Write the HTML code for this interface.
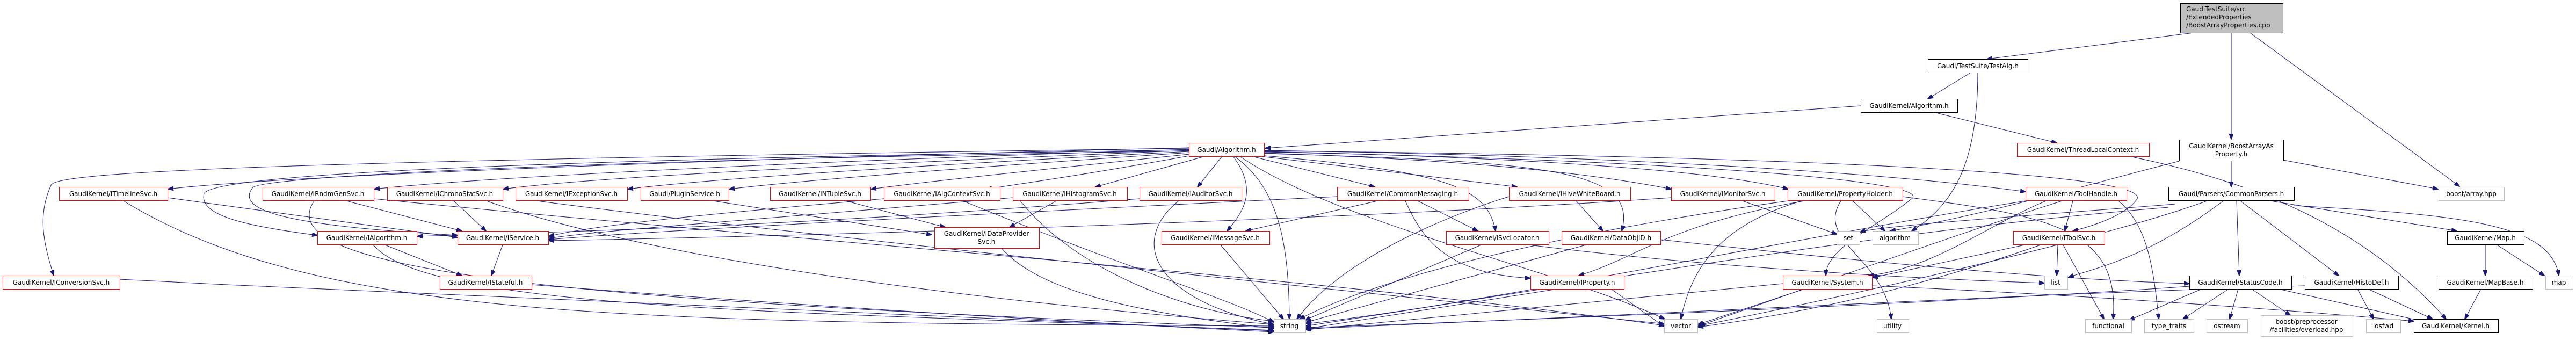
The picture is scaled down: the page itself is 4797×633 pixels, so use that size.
<!DOCTYPE html>
<html><head><meta charset="utf-8"><style>
html,body{margin:0;padding:0;background:#fff;}
svg{display:block}
text{font-family:"DejaVu Sans","Liberation Sans",sans-serif;font-size:12px;fill:#000}
.r{fill:#fff;stroke:#ff0000;stroke-width:1}
.b{fill:#fff;stroke:#000;stroke-width:1}
.g{fill:#fff;stroke:#bfbfbf;stroke-width:1}
.e path{fill:none;stroke:#191970;stroke-width:1}
</style></head><body>
<svg width="4797" height="633" viewBox="0 0 4797 633" xmlns="http://www.w3.org/2000/svg">
<defs><marker id="a" markerWidth="11" markerHeight="8" refX="10" refY="4" orient="auto" markerUnits="userSpaceOnUse"><path d="M0,0 L11,4 L0,8 z" fill="#191970" stroke="#191970"/></marker></defs>
<g class="e" marker-end="url(#a)">
<!-- top -->
<path d="M4085,61 L3700,110" marker-end="url(#a)"/>
<path d="M4155,61 L4155,259" marker-end="url(#a)"/>
<path d="M4190,61 L4580,347" marker-end="url(#a)"/>
<path d="M3670,135 L3590,184" marker-end="url(#a)"/>
<path d="M3683,135 C3683,300 3640,380 3560,430" marker-end="url(#a)"/>
<path d="M3465,197 L2356,276" marker-end="url(#a)"/>
<path d="M3605,210 L3830,266" marker-end="url(#a)"/>
<path d="M3970,292 C4200,340 4400,420 4555,594" marker-end="url(#a)"/>
<path d="M4155,300 L4155,348" marker-end="url(#a)"/>
<path d="M4252,298 L4540,352" marker-end="url(#a)"/>
<path d="M4058,300 C3900,340 3700,400 3520,430" marker-end="url(#a)"/>
<!-- CommonParsers -->
<path d="M4165,374 L4170,513" marker-end="url(#a)"/>
<path d="M4172,374 L4355,513" marker-end="url(#a)"/>
<path d="M4228,374 L4575,430" marker-end="url(#a)"/>
<path d="M4272,383 C4600,400 4750,420 4765,513" marker-end="url(#a)"/>
<path d="M4038,386 C3500,430 3000,520 2432,607" marker-end="url(#a)"/>
<path d="M4110,374 C3900,450 3400,560 3162,607" marker-end="url(#a)"/>
<path d="M4140,374 C4000,480 3900,500 3852,516" marker-end="url(#a)"/>
<path d="M4050,380 C3800,400 3500,420 3464,432" marker-end="url(#a)"/>
<!-- Map -->
<path d="M4628,456 L4628,513" marker-end="url(#a)"/>
<path d="M4650,456 L4738,513" marker-end="url(#a)"/>
<path d="M4620,538 L4590,594" marker-end="url(#a)"/>
<!-- StatusCode / HistoDef -->
<path d="M4100,538 L3965,596" marker-end="url(#a)"/>
<path d="M4150,538 L4065,594" marker-end="url(#a)"/>
<path d="M4168,538 L4152,594" marker-end="url(#a)"/>
<path d="M4193,538 L4265,587" marker-end="url(#a)"/>
<path d="M4243,538 L4520,600" marker-end="url(#a)"/>
<path d="M4077,533 C3700,560 3000,590 2432,610" marker-end="url(#a)"/>
<path d="M4390,538 L4420,594" marker-end="url(#a)"/>
<path d="M4410,538 L4530,594" marker-end="url(#a)"/>
<path d="M4292,532 C3700,550 3000,590 2432,612" marker-end="url(#a)"/>
<!-- Gaudi/Algorithm.h to row2 -->
<path d="M2215,275 C1200,300 500,330 313,352" marker-end="url(#a)"/>
<path d="M2215,278 C1500,300 900,330 697,352" marker-end="url(#a)"/>
<path d="M2215,280 C1600,305 1100,330 937,352" marker-end="url(#a)"/>
<path d="M2215,282 C1700,308 1300,335 1169,352" marker-end="url(#a)"/>
<path d="M2215,284 C1800,312 1500,335 1358,352" marker-end="url(#a)"/>
<path d="M2215,287 C1950,315 1750,335 1622,352" marker-end="url(#a)"/>
<path d="M2215,290 C2050,320 1950,335 1837,352" marker-end="url(#a)"/>
<path d="M2240,292 L2040,348" marker-end="url(#a)"/>
<path d="M2275,292 L2230,348" marker-end="url(#a)"/>
<path d="M2335,292 L2560,348" marker-end="url(#a)"/>
<path d="M2355,292 L2825,348" marker-end="url(#a)"/>
<path d="M2355,285 C2800,300 3000,330 3112,352" marker-end="url(#a)"/>
<path d="M2355,282 C2900,295 3200,320 3330,352" marker-end="url(#a)"/>
<path d="M2355,280 C3000,290 3500,320 3772,357" marker-end="url(#a)"/>
<path d="M2215,276 C500,300 100,320 95,345 C70,400 80,450 100,513" marker-end="url(#a)"/>
<path d="M2215,279 C800,300 400,330 380,360 C370,400 450,420 591,438" marker-end="url(#a)"/>
<path d="M2215,281 C1000,300 480,330 470,350 C440,390 520,420 852,438" marker-end="url(#a)"/>
<path d="M2297,292 C2340,350 2320,390 2285,430" marker-end="url(#a)"/>
<path d="M2355,290 C2700,320 2770,350 2785,430" marker-end="url(#a)"/>
<path d="M2355,286 C2900,300 3050,320 3020,430" marker-end="url(#a)"/>
<path d="M2300,292 C2380,350 2400,450 2401,594" marker-end="url(#a)"/>
<path d="M2310,292 C2500,420 2900,500 3100,594" marker-end="url(#a)"/>
<path d="M2355,283 C3200,300 3600,340 3560,370 C3500,420 3400,460 3400,513" marker-end="url(#a)"/>
<path d="M2355,281 C3300,290 4000,320 3980,370 C3960,400 3900,420 3860,430" marker-end="url(#a)"/>
<!-- row2 to below -->
<path d="M312,368 L852,442" marker-end="url(#a)"/>
<path d="M230,374 C600,600 1200,600 2372,607" marker-end="url(#a)"/>
<path d="M645,374 L860,430" marker-end="url(#a)"/>
<path d="M585,374 C500,500 1000,560 2372,610" marker-end="url(#a)"/>
<path d="M696,370 C1500,450 2500,520 3099,606" marker-end="url(#a)"/>
<path d="M845,374 L905,430" marker-end="url(#a)"/>
<path d="M906,374 C1200,480 1800,560 2372,604" marker-end="url(#a)"/>
<path d="M1000,374 C1500,440 2500,540 3099,603" marker-end="url(#a)"/>
<path d="M1328,374 L1735,437" marker-end="url(#a)"/>
<path d="M1575,374 L1760,423" marker-end="url(#a)"/>
<path d="M1646,370 C1300,400 1100,420 1022,440" marker-end="url(#a)"/>
<path d="M1793,374 C2100,500 2300,560 2372,600" marker-end="url(#a)"/>
<path d="M1967,374 L1880,423" marker-end="url(#a)"/>
<path d="M1886,368 C1400,410 1100,430 1022,444" marker-end="url(#a)"/>
<path d="M1900,374 C2000,500 2200,580 2372,598" marker-end="url(#a)"/>
<path d="M2195,374 C2100,450 2150,560 2372,604" marker-end="url(#a)"/>
<path d="M2122,370 C1500,420 1100,430 777,440" marker-end="url(#a)"/>
<path d="M2565,374 L2320,430" marker-end="url(#a)"/>
<path d="M2640,374 L2752,430" marker-end="url(#a)"/>
<path d="M2617,374 C2650,450 2700,510 2850,518" marker-end="url(#a)"/>
<path d="M2490,366 C1800,400 1200,430 1022,446" marker-end="url(#a)"/>
<path d="M2810,366 C2700,400 2500,480 2415,594" marker-end="url(#a)"/>
<path d="M2935,374 L2985,430" marker-end="url(#a)"/>
<path d="M3112,368 C2500,410 1500,440 1022,448" marker-end="url(#a)"/>
<path d="M3245,374 L3421,436" marker-end="url(#a)"/>
<path d="M3330,374 C3000,420 2600,500 2420,594" marker-end="url(#a)"/>
<path d="M3355,374 C3200,420 3150,500 3130,594" marker-end="url(#a)"/>
<path d="M3360,374 C3100,420 3050,480 2940,513" marker-end="url(#a)"/>
<path d="M3450,374 L3510,430" marker-end="url(#a)"/>
<path d="M3428,374 C3380,450 3510,480 3522,594" marker-end="url(#a)"/>
<path d="M3543,366 C3800,400 3950,420 3935,594" marker-end="url(#a)"/>
<path d="M3860,374 L3845,430" marker-end="url(#a)"/>
<path d="M3810,374 C3700,420 3600,500 3480,513" marker-end="url(#a)"/>
<path d="M3840,374 C3600,450 3300,560 3165,606" marker-end="url(#a)"/>
<path d="M3772,374 C3300,450 2800,560 2432,603" marker-end="url(#a)"/>
<path d="M3945,374 C4000,420 4010,500 4020,594" marker-end="url(#a)"/>
<!-- row3 -->
<path d="M717,456 L860,513" marker-end="url(#a)"/>
<path d="M695,456 C800,580 1500,580 2372,615" marker-end="url(#a)"/>
<path d="M936,456 L915,513" marker-end="url(#a)"/>
<path d="M1866,463 C1950,560 2200,590 2372,612" marker-end="url(#a)"/>
<path d="M2273,456 L2390,594" marker-end="url(#a)"/>
<path d="M2758,456 L2430,596" marker-end="url(#a)"/>
<path d="M2848,456 C3200,500 3600,520 3807,527" marker-end="url(#a)"/>
<path d="M2953,456 L2432,600" marker-end="url(#a)"/>
<path d="M3092,446 C3400,480 3800,520 4077,528" marker-end="url(#a)"/>
<path d="M3832,456 L3830,513" marker-end="url(#a)"/>
<path d="M3842,456 L3918,594" marker-end="url(#a)"/>
<path d="M3770,456 L3487,517" marker-end="url(#a)"/>
<path d="M3800,456 C3500,560 3300,590 3162,609" marker-end="url(#a)"/>
<!-- row4 -->
<path d="M223,520 C1000,560 1800,590 2372,616" marker-end="url(#a)"/>
<path d="M990,530 C1500,570 2000,600 2372,618" marker-end="url(#a)"/>
<path d="M2900,538 L2432,612" marker-end="url(#a)"/>
<path d="M3000,538 L3099,608" marker-end="url(#a)"/>
<path d="M3320,528 C3000,560 2700,590 2432,614" marker-end="url(#a)"/>
<path d="M3360,538 L3162,604" marker-end="url(#a)"/>
<path d="M3486,532 C3900,550 4300,580 4495,598" marker-end="url(#a)"/>
</g>
<!-- nodes -->
<rect x="4060.5" y="6.5" width="191" height="55" fill="#bfbfbf" stroke="#000"/>
<text x="4071" y="21">GaudiTestSuite/src</text>
<text x="4071" y="36">/ExtendedProperties</text>
<text x="4071" y="51">/BoostArrayProperties.cpp</text>
<g text-anchor="middle">
<rect class="b" x="3590.5" y="110.5" width="186" height="25"/><text x="3683" y="127">Gaudi/TestSuite/TestAlg.h</text>
<rect class="b" x="3465.5" y="184.5" width="180" height="25"/><text x="3555" y="201">GaudiKernel/Algorithm.h</text>
<rect class="r" x="2214.5" y="266.5" width="140" height="25"/><text x="2284" y="283">Gaudi/Algorithm.h</text>
<rect class="r" x="3756.5" y="266.5" width="246" height="25"/><text x="3879" y="283">GaudiKernel/ThreadLocalContext.h</text>
<rect class="b" x="4058.5" y="260.5" width="194" height="39"/><text x="4155" y="276">GaudiKernel/BoostArrayAs</text><text x="4155" y="291">Property.h</text>

<rect class="r" x="110.5" y="348.5" width="202" height="25"/><text x="211" y="365">GaudiKernel/ITimelineSvc.h</text>
<rect class="r" x="489.5" y="348.5" width="207" height="25"/><text x="592" y="365">GaudiKernel/IRndmGenSvc.h</text>
<rect class="r" x="721.5" y="348.5" width="215" height="25"/><text x="828" y="365">GaudiKernel/IChronoStatSvc.h</text>
<rect class="r" x="960.5" y="348.5" width="208" height="25"/><text x="1064" y="365">GaudiKernel/IExceptionSvc.h</text>
<rect class="r" x="1193.5" y="348.5" width="164" height="25"/><text x="1275" y="365">Gaudi/PluginService.h</text>
<rect class="r" x="1434.5" y="348.5" width="187" height="25"/><text x="1527" y="365">GaudiKernel/INTupleSvc.h</text>
<rect class="r" x="1646.5" y="348.5" width="216" height="25"/><text x="1754" y="365">GaudiKernel/IAlgContextSvc.h</text>
<rect class="r" x="1886.5" y="348.5" width="213" height="25"/><text x="1992" y="365">GaudiKernel/IHistogramSvc.h</text>
<rect class="r" x="2122.5" y="348.5" width="190" height="25"/><text x="2217" y="365">GaudiKernel/IAuditorSvc.h</text>
<rect class="r" x="2490.5" y="348.5" width="245" height="25"/><text x="2612" y="365">GaudiKernel/CommonMessaging.h</text>
<rect class="r" x="2810.5" y="348.5" width="226" height="25"/><text x="2923" y="365">GaudiKernel/IHiveWhiteBoard.h</text>
<rect class="r" x="3112.5" y="348.5" width="193" height="25"/><text x="3208" y="365">GaudiKernel/IMonitorSvc.h</text>
<rect class="r" x="3329.5" y="348.5" width="214" height="25"/><text x="3436" y="365">GaudiKernel/PropertyHolder.h</text>
<rect class="r" x="3772.5" y="348.5" width="188" height="25"/><text x="3866" y="365">GaudiKernel/ToolHandle.h</text>
<rect class="b" x="4038.5" y="348.5" width="234" height="25"/><text x="4155" y="365">Gaudi/Parsers/CommonParsers.h</text>
<rect class="g" x="4541.5" y="348.5" width="122" height="25"/><text x="4602" y="365">boost/array.hpp</text>

<rect class="r" x="591.5" y="430.5" width="185" height="25"/><text x="683" y="447">GaudiKernel/IAlgorithm.h</text>
<rect class="r" x="852.5" y="430.5" width="169" height="25"/><text x="936" y="447">GaudiKernel/IService.h</text>
<rect class="r" x="1740.5" y="423.5" width="195" height="39"/><text x="1837" y="439">GaudiKernel/IDataProvider</text><text x="1837" y="454">Svc.h</text>
<rect class="r" x="2163.5" y="430.5" width="201" height="25"/><text x="2263" y="447">GaudiKernel/IMessageSvc.h</text>
<rect class="r" x="2693.5" y="430.5" width="191" height="25"/><text x="2788" y="447">GaudiKernel/ISvcLocator.h</text>
<rect class="r" x="2908.5" y="430.5" width="184" height="25"/><text x="3000" y="447">GaudiKernel/DataObjID.h</text>
<rect class="g" x="3420.5" y="430.5" width="43" height="25"/><text x="3442" y="447">set</text>
<rect class="g" x="3487.5" y="430.5" width="85" height="25"/><text x="3529" y="447">algorithm</text>
<rect class="r" x="3749.5" y="430.5" width="170" height="25"/><text x="3834" y="447">GaudiKernel/IToolSvc.h</text>
<rect class="b" x="4557.5" y="430.5" width="143" height="25"/><text x="4628" y="447">GaudiKernel/Map.h</text>

<rect class="r" x="5.5" y="513.5" width="218" height="25"/><text x="114" y="530">GaudiKernel/IConversionSvc.h</text>
<rect class="r" x="819.5" y="513.5" width="171" height="25"/><text x="904" y="530">GaudiKernel/IStateful.h</text>
<rect class="r" x="2850.5" y="513.5" width="174" height="25"/><text x="2937" y="530">GaudiKernel/IProperty.h</text>
<rect class="r" x="3320.5" y="513.5" width="166" height="25"/><text x="3403" y="530">GaudiKernel/System.h</text>
<rect class="g" x="3807.5" y="513.5" width="43" height="25"/><text x="3828" y="530">list</text>
<rect class="b" x="4077.5" y="513.5" width="190" height="25"/><text x="4172" y="530">GaudiKernel/StatusCode.h</text>
<rect class="b" x="4292.5" y="513.5" width="174" height="25"/><text x="4379" y="530">GaudiKernel/HistoDef.h</text>
<rect class="b" x="4541.5" y="513.5" width="175" height="25"/><text x="4628" y="530">GaudiKernel/MapBase.h</text>
<rect class="g" x="4740.5" y="513.5" width="51" height="25"/><text x="4765" y="530">map</text>

<rect class="g" x="2372.5" y="594.5" width="59" height="25"/><text x="2401" y="611">string</text>
<rect class="g" x="3099.5" y="594.5" width="62" height="25"/><text x="3130" y="611">vector</text>
<rect class="g" x="3495.5" y="594.5" width="59" height="25"/><text x="3524" y="611">utility</text>
<rect class="g" x="3883.5" y="594.5" width="86" height="25"/><text x="3926" y="611">functional</text>
<rect class="g" x="3993.5" y="594.5" width="92" height="25"/><text x="4039" y="611">type_traits</text>
<rect class="g" x="4109.5" y="594.5" width="76" height="25"/><text x="4147" y="611">ostream</text>
<rect class="g" x="4210.5" y="587.5" width="171" height="39"/><text x="4295" y="603">boost/preprocessor</text><text x="4295" y="618">/facilities/overload.hpp</text>
<rect class="g" x="4406.5" y="594.5" width="64" height="25"/><text x="4438" y="611">iosfwd</text>
<rect class="b" x="4495.5" y="594.5" width="157" height="25"/><text x="4573" y="611">GaudiKernel/Kernel.h</text>
</g>
</svg>
</body></html>
